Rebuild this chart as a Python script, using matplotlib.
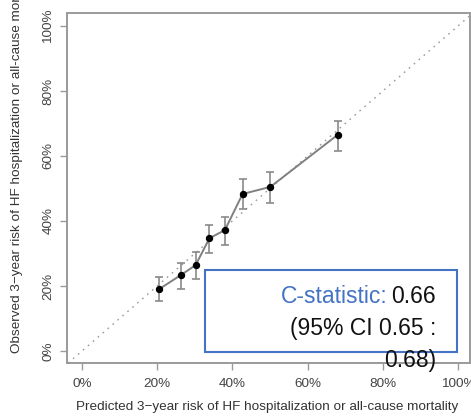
import matplotlib
matplotlib.use("Agg")
import matplotlib.pyplot as plt
from matplotlib.patches import Rectangle

# Calibration by decile of predicted risk
predicted = [0.206, 0.262, 0.302, 0.339, 0.380, 0.427, 0.501, 0.681]
observed = [0.191, 0.233, 0.264, 0.347, 0.372, 0.483, 0.505, 0.666]
ci_low = [0.155, 0.191, 0.222, 0.301, 0.325, 0.436, 0.456, 0.616]
ci_high = [0.227, 0.270, 0.304, 0.389, 0.413, 0.528, 0.552, 0.707]

tick_values = [0, 0.2, 0.4, 0.6, 0.8, 1.0]
tick_labels = ["0%", "20%", "40%", "60%", "80%", "100%"]

x_label = "Predicted 3\u2212year risk of HF hospitalization or all-cause mortality"
y_label = "Observed 3\u2212year risk of HF hospitalization or all-cause mortality"

c_stat_label = "C-statistic:"
c_stat_value = "0.66"
ci_line1 = "(95% CI 0.65 :"
ci_line2 = "0.68)"

plt.rcParams["font.family"] = ["Liberation Sans", "DejaVu Sans"]

W, H = 471, 418
fig = plt.figure(figsize=(W / 100, H / 100), dpi=100)


def fx(px):
    return px / W


def fy(py):
    return 1 - py / H


ax = fig.add_axes([fx(67), fy(363), fx(470) - fx(67), fy(13) - fy(363)])
ax.set_xlim(-0.04, 1.032)
ax.set_ylim(-0.037, 1.04)

frame_col = "#9a9a9a"
for s in ax.spines.values():
    s.set_color(frame_col)
    s.set_linewidth(1.4)

# reference line of perfect calibration
ax.axline((0, 0), slope=1, color="#9a9a9a", linewidth=1.0,
          linestyle=(0, (1.2, 3.5)), zorder=1)

yerr = [[o - l for o, l in zip(observed, ci_low)],
        [h - o for o, h in zip(observed, ci_high)]]
ax.errorbar(predicted, observed, yerr=yerr, fmt="none", ecolor="#8a8a8a",
            elinewidth=1.2, capsize=3, capthick=1.2, zorder=2)
ax.plot(predicted, observed, color="#808080", linewidth=1.4, zorder=3)
ax.plot(predicted, observed, "o", color="black", markersize=4.3, zorder=4)

ax.set_xticks(tick_values)
ax.set_xticklabels(tick_labels)
ax.set_yticks(tick_values)
ax.set_yticklabels(tick_labels, rotation=90, va="center")
ax.tick_params(axis="both", direction="out", length=5, width=1.0,
               color=frame_col, labelsize=9.7, labelcolor="#444444")
ax.tick_params(axis="x", pad=6)
ax.tick_params(axis="y", pad=4)

fig.text(fx(267), fy(407), x_label, ha="center", va="center",
         fontsize=9.7, color="#333333")
fig.text(fx(17), fy(353), y_label, ha="center", va="bottom", rotation=90,
         fontsize=9.7, color="#333333")

# C-statistic box
fig.add_artist(Rectangle((fx(205), fy(352)), fx(457) - fx(205),
                         fy(270) - fy(352), transform=fig.transFigure,
                         fill=False, edgecolor="#4472C4", linewidth=1.5))

tsize = 16.5
fig.text(fx(436), fy(303), c_stat_value, ha="right", va="baseline",
         fontsize=tsize, color="#111111")
fig.text(fx(436 - 48), fy(303), c_stat_label, ha="right", va="baseline",
         fontsize=tsize, color="#4472C4")
fig.text(fx(436), fy(335), ci_line1, ha="right", va="baseline",
         fontsize=tsize, color="#111111")
fig.text(fx(436), fy(367), ci_line2, ha="right", va="baseline",
         fontsize=tsize, color="#111111")

fig.savefig("out.png", dpi=100)
